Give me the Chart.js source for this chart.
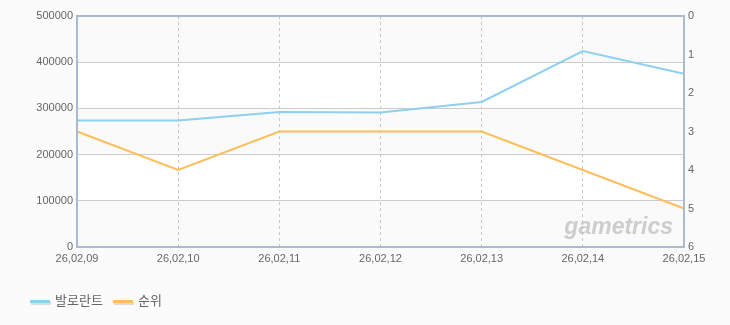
<!DOCTYPE html>
<html>
<head>
<meta charset="utf-8">
<script src="https://cdn.jsdelivr.net/npm/chart.js@4"></script>
<style>
  body { margin: 0; background: #fbfbfb; }
  #wrap { width: 730px; height: 325px; }
</style>
</head>
<body>
<div id="wrap"><canvas id="myChart" width="730" height="325"></canvas></div>
<script>
// data
const labels = ['26,02,09', '26,02,10', '26,02,11', '26,02,12', '26,02,13', '26,02,14', '26,02,15'];
const players = [274000, 274000, 292000, 291000, 314000, 424000, 375000];
const rank = [3, 4, 3, 3, 3, 4, 5];
const leftTicks = [0, 100000, 200000, 300000, 400000, 500000];
const rightTicks = [0, 1, 2, 3, 4, 5, 6];

const blue = 'rgb(142,208,240)';
const orange = 'rgb(255,190,92)';

// alternating bands + frame + watermark
const decor = {
    id: 'decor',
    beforeDraw(chart) {
        const ctx = chart.ctx;
        const a = chart.chartArea;
        const y = chart.scales.y;
        ctx.save();
        ctx.fillStyle = '#fbfbfb';
        ctx.fillRect(0, 0, chart.width, chart.height);
        for (let i = 0; i < leftTicks.length - 1; i++) {
            const top = y.getPixelForValue(leftTicks[i + 1]);
            const bot = y.getPixelForValue(leftTicks[i]);
            ctx.fillStyle = i % 2 == 0 ? '#fafafa' : '#ffffff';
            ctx.fillRect(a.left, top, a.right - a.left, bot - top);
        }
        ctx.restore();
    },
    beforeDatasetsDraw(chart) {
        const ctx = chart.ctx;
        const a = chart.chartArea;
        ctx.save();
        ctx.font = 'italic bold 23px "Liberation Sans", Arial, sans-serif';
        ctx.fillStyle = 'rgba(175,175,175,0.6)';
        ctx.textAlign = 'right';
        ctx.textBaseline = 'alphabetic';
        ctx.fillText('gametrics', a.right - 11, a.bottom - 13);
        ctx.restore();
    },
    afterDatasetsDraw(chart) {
        const ctx = chart.ctx;
        const a = chart.chartArea;
        ctx.save();
        ctx.strokeStyle = '#aabbd0';
        ctx.lineWidth = 2;
        ctx.strokeRect(a.left, a.top, a.right - a.left, a.bottom - a.top);
        ctx.restore();
    },
    afterDraw(chart) {
        // legend
        const ctx = chart.ctx;
        const items = [['발로란트', blue, 30], ['순위', orange, 113]];
        ctx.save();
        ctx.font = '13px "Noto Sans CJK KR", sans-serif';
        ctx.textBaseline = 'middle';
        ctx.textAlign = 'left';
        items.forEach(([text, color, x]) => {
            ctx.fillStyle = '#dddddd';
            ctx.fillRect(x + 1, 302, 20, 3);
            ctx.fillStyle = color;
            ctx.fillRect(x, 300, 20, 3);
            ctx.fillStyle = '#666666';
            ctx.fillText(text, x + 25, 300);
        });
        ctx.restore();
    }
};

const tickFont = { family: '"Liberation Sans", Arial, sans-serif', size: 11 };

const ctx = document.getElementById('myChart').getContext('2d');
const myChart = new Chart(ctx, {
    type: 'line',
    data: {
        labels: labels,
        datasets: [{
            label: '발로란트',
            data: players,
            borderColor: blue,
            borderWidth: 2,
            pointRadius: 0,
            tension: 0,
            yAxisID: 'y'
        }, {
            label: '순위',
            data: rank,
            borderColor: orange,
            borderWidth: 2,
            pointRadius: 0,
            tension: 0,
            yAxisID: 'y1'
        }]
    },
    options: {
        responsive: false,
        animation: false,
        layout: { padding: { top: 16, left: 0, right: 0, bottom: 0 } },
        plugins: {
            legend: { display: false },
            tooltip: { enabled: false }
        },
        scales: {
            x: {
                offset: false,
                afterFit(scale) { scale.height = 78; },
                grid: { color: '#c8c8c8', drawTicks: false },
                border: { display: false, dash: [3, 3] },
                ticks: { color: '#666', font: tickFont, padding: 5, maxRotation: 0, autoSkip: false }
            },
            y: {
                position: 'left',
                min: 0,
                max: 500000,
                afterFit(scale) { scale.width = 77; },
                afterBuildTicks(scale) { scale.ticks = leftTicks.map(v => ({ value: v })); },
                grid: { color: '#cccccc', drawTicks: false },
                border: { display: false },
                ticks: { color: '#666', font: tickFont, padding: 4, callback: v => String(v) }
            },
            y1: {
                position: 'right',
                reverse: true,
                min: 0,
                max: 6,
                afterFit(scale) { scale.width = 46; },
                afterBuildTicks(scale) { scale.ticks = rightTicks.map(v => ({ value: v })); },
                grid: { display: false, drawTicks: false },
                border: { display: false },
                ticks: { color: '#666', font: tickFont, padding: 4, callback: v => String(v) }
            }
        }
    },
    plugins: [decor]
});
</script>
</body>
</html>
